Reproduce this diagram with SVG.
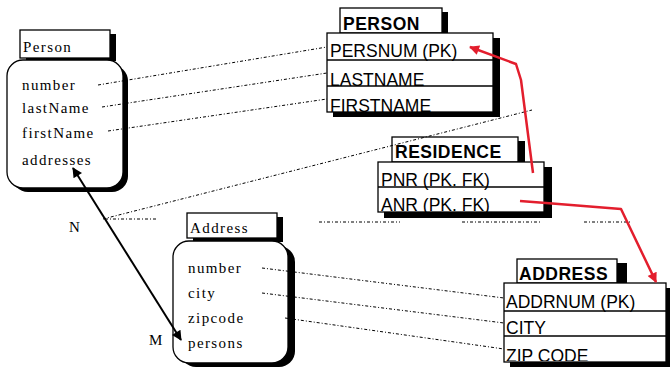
<svg xmlns="http://www.w3.org/2000/svg" width="670" height="367" viewBox="0 0 670 367">
<defs>
<style>
.box{fill:#fff;stroke:#000;stroke-width:1.3}
.sh{fill:#000}
.cls{font-family:"Liberation Serif","Times New Roman",serif;font-size:15px;letter-spacing:1.4px;fill:#000}
.fld{font-family:"Liberation Sans",Arial,sans-serif;font-size:17.5px;fill:#000}
.ttl{font-family:"Liberation Sans",Arial,sans-serif;font-size:17.5px;font-weight:bold;fill:#000;letter-spacing:0.5px}
.ln{stroke:#000;stroke-width:1.3}
.dot{fill:none;stroke:#000;stroke-width:1;stroke-dasharray:3 2 1 2}
.red{fill:none;stroke:#e31e2d;stroke-width:2.5;stroke-linejoin:round}
.blk{fill:none;stroke:#000;stroke-width:2}
</style>
<marker id="ah" viewBox="0 0 10 10" refX="9" refY="5" markerWidth="6.5" markerHeight="5" orient="auto-start-reverse" markerUnits="strokeWidth"><path d="M0,0 L10,5 L0,10 z" fill="#000"/></marker>
<marker id="rh" viewBox="0 0 10 10" refX="9" refY="5" markerWidth="5" markerHeight="4" orient="auto" markerUnits="strokeWidth"><path d="M0,0 L10,5 L0,10 z" fill="#e31e2d"/></marker>
<clipPath id="addrClip"><rect x="500" y="280" width="170" height="81"/></clipPath>
</defs>

<g id="class-person">
<rect class="sh" x="26" y="34" width="90" height="27"/>
<rect class="box" x="20" y="30" width="90" height="28"/>
<text class="cls" x="23" y="52">Person</text>
<rect class="sh" x="12" y="65" width="116" height="127" rx="16"/>
<rect class="box" x="7" y="60" width="116" height="128" rx="16"/>
<text class="cls" x="22" y="90">number</text>
<text class="cls" x="22" y="113">lastName</text>
<text class="cls" x="22" y="138">firstName</text>
<text class="cls" x="22" y="165">addresses</text>
</g>

<g id="class-address">
<rect class="sh" x="193" y="217" width="90" height="25"/>
<rect class="box" x="187" y="213" width="90" height="25"/>
<text class="cls" x="190" y="233">Address</text>
<rect class="sh" x="180" y="246" width="115" height="121" rx="16"/>
<rect class="box" x="173" y="241" width="115" height="122" rx="16"/>
<text class="cls" x="188" y="273">number</text>
<text class="cls" x="188" y="298">city</text>
<text class="cls" x="188" y="323">zipcode</text>
<text class="cls" x="188" y="348">persons</text>
</g>

<g id="table-person">
<rect class="sh" x="346" y="12" width="102" height="25"/>
<rect class="box" x="340" y="8" width="102" height="25"/>
<text class="ttl" x="343" y="30">PERSON</text>
<rect class="sh" x="333" y="38" width="167" height="79"/>
<rect class="box" x="327" y="33" width="166" height="79"/>
<text class="fld" x="330" y="57">PERSNUM (PK)</text>
<text class="fld" x="330" y="86">LASTNAME</text>
<text class="fld" x="330" y="112">FIRSTNAME</text>
<line class="ln" x1="327" y1="60" x2="493" y2="60"/>
<line class="ln" x1="327" y1="86" x2="493" y2="86"/>
</g>

<g id="table-residence">
<rect class="sh" x="398" y="141" width="127" height="25"/>
<rect class="box" x="392" y="137" width="126" height="25"/>
<text class="ttl" x="395" y="158">RESIDENCE</text>
<rect class="sh" x="384" y="167" width="168" height="51"/>
<rect class="box" x="378" y="162" width="166" height="50"/>
<text class="fld" x="381" y="186">PNR (PK. FK)</text>
<text class="fld" x="381" y="211">ANR (PK. FK)</text>
<line class="ln" x1="378" y1="187" x2="544" y2="187"/>
</g>

<g id="table-address">
<rect class="sh" x="523" y="263" width="104" height="24"/>
<rect class="box" x="517" y="259" width="100" height="24"/>
<text class="ttl" x="519" y="280">ADDRESS</text>
<rect class="sh" x="510" y="288" width="165" height="79"/>
<rect class="box" x="504" y="283" width="162" height="79"/>
<text class="fld" x="506" y="308">ADDRNUM (PK)</text>
<text class="fld" x="506" y="334">CITY</text>
<text class="fld" x="506" y="362" clip-path="url(#addrClip)">ZIP CODE</text>
<line class="ln" x1="504" y1="311" x2="666" y2="311"/>
<line class="ln" x1="504" y1="336" x2="666" y2="336"/>
</g>

<g id="connectors">
<line class="dot" x1="98" y1="85" x2="327" y2="47"/>
<line class="dot" x1="102" y1="107" x2="327" y2="73"/>
<line class="dot" x1="108" y1="131" x2="327" y2="99"/>
<line class="dot" x1="103" y1="219" x2="532" y2="110"/>
<line class="dot" x1="105" y1="219" x2="156" y2="219"/>
<line class="dot" x1="319" y1="222" x2="400" y2="222"/>
<line class="dot" x1="462" y1="222" x2="542" y2="222"/>
<line class="dot" x1="584" y1="222" x2="632" y2="222"/>
<line class="dot" x1="262" y1="268" x2="504" y2="298"/>
<line class="dot" x1="262" y1="293" x2="504" y2="323"/>
<line class="dot" x1="285" y1="318" x2="504" y2="349"/>
<line class="blk" x1="73" y1="168" x2="181" y2="340" marker-start="url(#ah)" marker-end="url(#ah)"/>
<polyline class="red" points="533,173 521,80 516,64 470,47" marker-end="url(#rh)"/>
<polyline class="red" points="520,201 546,203 621,209 656,282" marker-end="url(#rh)"/>
<text class="cls" x="69" y="232">N</text>
<text class="cls" x="149" y="345">M</text>
</g>
</svg>
